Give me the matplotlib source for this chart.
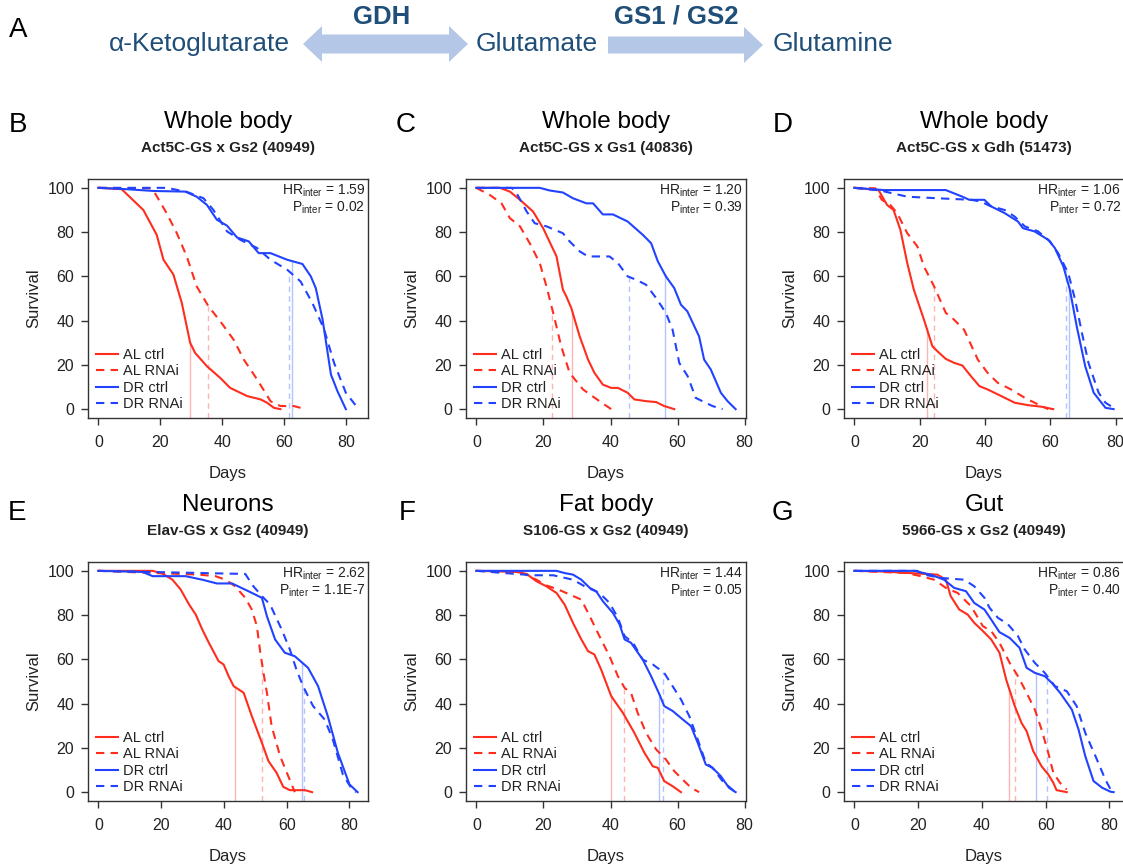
import numpy as np
import matplotlib
matplotlib.use("Agg")
import matplotlib.pyplot as plt
from matplotlib.patches import Polygon

plt.rcParams["font.family"] = ["Liberation Sans", "DejaVu Sans"]
plt.rcParams["mathtext.fontset"] = "custom"
plt.rcParams["mathtext.rm"] = "Liberation Sans"

# =========================
# データ (survival curves)
# =========================

# B: Whole body, Act5C-GS x Gs2
b_al_ctrl_x = [0, 7.5, 14.5, 18.8, 21, 24.2, 26.9, 29.6, 31.2, 35, 39.3, 42.5, 48, 52.3, 54.4, 56.6, 58.7]
b_al_ctrl_y = [100, 99.4, 90, 78.8, 67.5, 60.8, 48, 30, 25.4, 19.4, 14.1, 9.6, 5.9, 4.4, 2.9, 0.6, 0]
b_al_rnai_x = [0, 16.6, 18.2, 22, 25.3, 28.5, 31.7, 35.5, 39.3, 43.6, 46.9, 51.2, 55.5, 58.7, 63, 66.8]
b_al_rnai_y = [100, 99.8, 97.7, 88.6, 79.5, 69, 55.5, 46.5, 39.7, 31.4, 22.4, 13.4, 3.6, 1.4, 1.4, 0]
b_dr_ctrl_x = [0, 9, 17.7, 28, 31.7, 35, 38.2, 41.5, 44.7, 48.5, 51.7, 55.5, 60.9, 65.8, 68.5, 70.1, 72.3, 75, 77.1, 79.8]
b_dr_ctrl_y = [100, 99.4, 98.6, 98.3, 96, 92.3, 85.6, 82.9, 77.6, 75.8, 70.5, 70.5, 67.5, 65.6, 60, 54.7, 40.5, 15.6, 8.1, 0]
b_dr_rnai_x = [0, 22, 28.5, 33.9, 37.1, 41.5, 45.8, 51.2, 55.5, 60.9, 65.2, 69, 72.8, 76, 79.8, 83.6]
b_dr_rnai_y = [100, 100, 98.2, 95.3, 90, 80.3, 76.5, 72.8, 67.5, 63, 57.7, 48, 36, 20.9, 7.4, 0.6]
b_means = [29.6, 35.5, 62.3, 61.4]

# C: Whole body, Act5C-GS x Gs1
c_al_ctrl_x = [0, 7, 10, 13, 16.9, 19.9, 23.9, 25.8, 26.8, 28.3, 30.8, 33.3, 35.2, 37.7, 40.2, 42.2, 45.1, 47.1, 50.6, 53.6, 56, 59]
c_al_ctrl_y = [100, 100, 98.3, 94.6, 89.3, 81.8, 69, 54, 51, 45.7, 32.9, 22.4, 16.4, 11.1, 9.6, 9.6, 7.4, 4.4, 3.6, 3.2, 1.4, 0]
c_al_rnai_x = [0, 4, 7.5, 10, 13, 15.9, 18.9, 20.9, 22.9, 25.3, 27.8, 31.8, 36.7, 40.2]
c_al_rnai_y = [100, 96.8, 93, 86.3, 82.6, 75, 66, 55.5, 43.5, 28.4, 16.4, 8.9, 3.6, 0]
c_dr_ctrl_x = [0, 18.9, 21.9, 25.8, 28.8, 32.8, 34.8, 37.7, 40.7, 45.1, 49.6, 52.1, 54.1, 56.5, 59, 61, 62.9, 66.4, 67.9, 69.9, 72.9, 74.9, 77.3]
c_dr_ctrl_y = [100, 100, 98.8, 97.9, 95.3, 93, 93, 88, 88, 84.8, 78.8, 75, 66.8, 60, 54.7, 47.2, 44.2, 32.9, 22.4, 17.9, 7.4, 3.6, 0]
c_dr_rnai_x = [0, 10.5, 12, 15, 17.4, 20.9, 25.8, 27.8, 30.8, 33.3, 39.7, 42.2, 45.1, 47.6, 50.6, 53.6, 56.5, 58.5, 60.5, 63, 65.4, 67.4, 70.4, 73.4]
c_dr_rnai_y = [100, 100, 97.6, 89.3, 84, 82.6, 79.5, 75.8, 71.3, 69, 69, 66, 60, 58.5, 56.2, 50.2, 43.5, 35.9, 20.9, 14.9, 5.1, 3.6, 1.4, 0]
c_means = [28.6, 22.5, 56.1, 45.4]

# D: Whole body, Act5C-GS x Gdh
d_al_ctrl_x = [0, 7.4, 10, 12, 14.1, 16.2, 18.2, 21.3, 23.9, 25.4, 28, 30.6, 33.1, 35.7, 38.3, 40.8, 45, 49.1, 53.2, 57.3, 60.9]
d_al_ctrl_y = [100, 99, 92.3, 90, 81, 66, 54, 40.5, 28.4, 26.2, 22.7, 20.9, 19.7, 14.9, 10.4, 8.9, 5.9, 2.9, 1.8, 1.1, 0]
d_al_rnai_x = [0, 6.4, 8.4, 11, 13.1, 16.2, 19.3, 21.3, 24.4, 28, 30, 33.6, 37.8, 40.8, 43.9, 48, 52.2, 56.3, 59.4]
d_al_rnai_y = [100, 99.8, 94.6, 92.3, 88.6, 79.5, 73.5, 64.5, 55.5, 43.5, 41.2, 35.9, 22.4, 16.4, 11.9, 8.9, 5.1, 2.1, 0]
d_dr_ctrl_x = [0, 9, 28, 33.1, 35.2, 39.8, 41.9, 46, 50.1, 51.6, 55.2, 59.4, 61.4, 64, 66, 68.1, 70.7, 73.3, 76.9, 79.4]
d_dr_ctrl_y = [100, 99, 99, 96, 94.6, 94.6, 91.6, 88.6, 84.8, 81.8, 80.3, 76.5, 72.8, 64.5, 54, 37.4, 19.4, 7.4, 0.6, 0]
d_dr_rnai_x = [0, 7.9, 16.2, 25.4, 35.7, 38.8, 41.4, 46, 49.1, 52.2, 56.3, 59.9, 62.4, 65.5, 67.6, 69.7, 71.7, 74.8, 76.9, 79.4]
d_dr_rnai_y = [100, 98.8, 96, 95.3, 94.6, 93.8, 91.9, 90, 87, 82.6, 80.3, 75.8, 70.5, 61.5, 49.5, 34.4, 20.9, 7.4, 2.9, 0.6]
d_means = [22.1, 24.3, 65.7, 64.9]

# E: Neurons, Elav-GS x Gs2
e_al_ctrl_x = [0, 17.3, 20.4, 23.6, 26.2, 28.9, 31, 33.1, 35.2, 38.3, 39.9, 41.5, 43.1, 46.3, 48.9, 52.1, 54.2, 56.8, 58.9, 61, 65.8, 68.1]
e_al_ctrl_y = [100, 100, 98.8, 96, 91.6, 84.8, 80.3, 73.5, 67.5, 59.2, 57.7, 52.4, 47.9, 44.9, 34.3, 22.3, 14, 8.7, 2.4, 0.9, 0.9, 0]
e_al_rnai_x = [0, 18.3, 32, 37.3, 40.5, 43.6, 46.8, 48.9, 50.5, 51.6, 52.6, 53.7, 55.2, 57.9, 60.5, 62.6]
e_al_rnai_y = [100, 99, 98.3, 97.6, 96, 93, 87.8, 82.5, 75, 63, 53.9, 44.9, 29.8, 16.3, 7.2, 0]
e_dr_ctrl_x = [0, 14.1, 17.3, 27.8, 33.1, 37.8, 42.6, 47.8, 52.1, 53.7, 56.3, 59.4, 62.6, 66.8, 70, 73.1, 76.3, 80, 82.6]
e_dr_ctrl_y = [100, 99.5, 97.6, 97.6, 96, 94.3, 94.3, 90.8, 87.8, 79.5, 69, 63, 61.4, 56.2, 47.9, 34.3, 17.8, 3.5, 0]
e_dr_rnai_x = [0, 46.8, 49.4, 52.1, 54.7, 58.4, 61, 63.1, 65.2, 68.4, 72.1, 74.7, 77.9, 80.5, 82.1]
e_dr_rnai_y = [100, 98.6, 93, 88.6, 84.8, 73.5, 64.5, 55.4, 47.9, 38.9, 32.8, 23.8, 8, 2, 0]
e_means = [43.4, 52.1, 64.8, 65.5]

# F: Fat body, S106-GS x Gs2
f_al_ctrl_x = [0, 12, 15, 17.9, 20.9, 23.9, 26.3, 28.8, 31.3, 33.3, 35.2, 37.2, 40.2, 43.7, 47.1, 50.1, 52.6, 54.1, 56, 58.5, 61]
f_al_ctrl_y = [100, 99.5, 98.6, 95.3, 93, 90, 84.8, 76.5, 69, 63.7, 62.2, 55.4, 43.4, 35.8, 26.8, 17.8, 11.7, 11, 5, 2.7, 0]
f_al_rnai_x = [0, 13, 17.9, 20.9, 24.4, 27.8, 31.3, 33.8, 36.7, 39.7, 42.2, 44.2, 46.1, 48.1, 50.6, 53.6, 56.5, 59, 61.5, 64, 66.4]
f_al_rnai_y = [100, 99.5, 96, 93.4, 91.6, 89.3, 87, 79.5, 70.5, 61.4, 52.4, 47.1, 44.9, 35.8, 26.8, 19.3, 14.8, 9.5, 5.7, 2, 0]
f_dr_ctrl_x = [0, 23.9, 26.3, 28.8, 31.3, 33.8, 35.7, 37.7, 40.7, 42.7, 44.2, 46.1, 49.6, 52.1, 54.6, 56, 58.5, 61.5, 64, 66, 68.4, 70.4, 72.9, 75.3, 77.3]
f_dr_ctrl_y = [100, 100, 99, 98.3, 96, 92.3, 90.8, 86.3, 81, 75.8, 69, 67.5, 59.9, 52.4, 44.1, 38.9, 36.7, 32.9, 29.8, 22.3, 12.5, 11, 7.2, 2, 0]
f_dr_rnai_x = [0, 16.9, 22.9, 28.8, 32.3, 36.7, 39.7, 42.2, 44.2, 46.7, 49.6, 52.6, 56, 58.5, 61, 63.5, 66, 68.4, 70.4, 73.4, 76.8]
f_dr_rnai_y = [100, 98, 98, 96, 93, 90, 85.5, 78.8, 70.5, 67.5, 59.9, 57.7, 53.9, 47.9, 41.9, 34.3, 23.8, 13.3, 11, 5, 0.5]
f_means = [40.1, 44.1, 54.5, 55.6]

# G: Gut, 5966-GS x Gs2
g_al_ctrl_x = [0, 9.2, 19.7, 26, 28.7, 30.2, 32.9, 35.5, 37.6, 40.3, 42.9, 45.5, 47.6, 50.3, 52.4, 54, 56.1, 58.7, 60.8, 62.4, 63.4, 66.6]
g_al_ctrl_y = [100, 99.7, 98.8, 98.3, 96, 88.6, 82.5, 80.3, 76.5, 72.8, 69, 63, 50.9, 38.9, 31.3, 27.6, 18.5, 11.7, 8, 4.2, 0.9, 0]
g_al_rnai_x = [0, 16.5, 20.8, 25, 28.7, 32.4, 36.6, 40.3, 42.9, 45.5, 48.7, 51.3, 54, 56.6, 58.7, 60.8, 62.4, 64.5, 66.6]
g_al_rnai_y = [100, 99, 97.6, 96, 92.3, 90, 84, 75, 72.8, 67.5, 58.4, 52.4, 44.9, 37.3, 28.3, 17.8, 8.7, 4.2, 1.2]
g_dr_ctrl_x = [0, 18.7, 23.9, 28.1, 31.3, 35, 37.6, 40.8, 42.9, 45.5, 48.7, 51.8, 54, 56.6, 59.7, 61.9, 64.5, 68.2, 70.3, 72.4, 75, 77.7, 80.3, 81.3]
g_dr_ctrl_y = [100, 100, 98.3, 96, 92.3, 90.8, 85.5, 82.5, 78, 72.3, 69.7, 65.2, 56.2, 53.9, 52.4, 49.4, 44.9, 37.3, 28.3, 16.3, 5, 2, 0.2, 0]
g_dr_rnai_x = [0, 19.7, 21.9, 27.1, 34.5, 37.6, 40.8, 42.4, 45, 48.2, 51.3, 53.4, 56.6, 59.7, 62.9, 66.6, 69.7, 72.4, 75.6, 78.7, 80.8]
g_dr_rnai_y = [100, 100, 98.3, 96.8, 96, 93, 87.8, 83.3, 78.8, 75.8, 70.5, 64.5, 58.4, 53.9, 47.9, 45.6, 38.9, 26.8, 16.3, 5.7, 0]
g_means = [48.5, 50.5, 56.8, 60.3]

letters = ["B", "C", "D", "E", "F", "G"]
titles = ["Whole body", "Whole body", "Whole body", "Neurons", "Fat body", "Gut"]
subtitles = ["Act5C-GS x Gs2 (40949)", "Act5C-GS x Gs1 (40836)", "Act5C-GS x Gdh (51473)",
             "Elav-GS x Gs2 (40949)", "S106-GS x Gs2 (40949)", "5966-GS x Gs2 (40949)"]
hr_inter = ["1.59", "1.20", "1.06", "2.62", "1.44", "0.86"]
p_inter = ["0.02", "0.39", "0.72", "1.1E-7", "0.05", "0.40"]
series_names = ["AL ctrl", "AL RNAi", "DR ctrl", "DR RNAi"]

panels = [
    ([b_al_ctrl_x, b_al_rnai_x, b_dr_ctrl_x, b_dr_rnai_x], [b_al_ctrl_y, b_al_rnai_y, b_dr_ctrl_y, b_dr_rnai_y], b_means),
    ([c_al_ctrl_x, c_al_rnai_x, c_dr_ctrl_x, c_dr_rnai_x], [c_al_ctrl_y, c_al_rnai_y, c_dr_ctrl_y, c_dr_rnai_y], c_means),
    ([d_al_ctrl_x, d_al_rnai_x, d_dr_ctrl_x, d_dr_rnai_x], [d_al_ctrl_y, d_al_rnai_y, d_dr_ctrl_y, d_dr_rnai_y], d_means),
    ([e_al_ctrl_x, e_al_rnai_x, e_dr_ctrl_x, e_dr_rnai_x], [e_al_ctrl_y, e_al_rnai_y, e_dr_ctrl_y, e_dr_rnai_y], e_means),
    ([f_al_ctrl_x, f_al_rnai_x, f_dr_ctrl_x, f_dr_rnai_x], [f_al_ctrl_y, f_al_rnai_y, f_dr_ctrl_y, f_dr_rnai_y], f_means),
    ([g_al_ctrl_x, g_al_rnai_x, g_dr_ctrl_x, g_dr_rnai_x], [g_al_ctrl_y, g_al_rnai_y, g_dr_ctrl_y, g_dr_rnai_y], g_means),
]

# =========================
# スタイル
# =========================

W, H = 1123, 867
red = "#ff2d1e"
blue = "#2143ff"
line_colors = [red, red, blue, blue]
mean_colors = ["#ffb4b4", "#ffb4b4", "#b4c4ff", "#b4c4ff"]
dashed = [False, True, False, True]
dash = (4, 3)
axis_col = "#333333"
text_col = "#222222"
header_col = "#1f4e79"
arrow_col = "#b4c7e7"


def fx(x):
    return x / W


def fy(y):
    return 1 - y / H


fig = plt.figure(figsize=(W / 100, H / 100), dpi=100)

# =========================
# A: pathway header
# =========================

fig.text(fx(18), fy(30), "A", fontsize=20, ha="center", va="center")
fig.text(fx(199), fy(44), "α-Ketoglutarate", fontsize=19, color=header_col, ha="center", va="center")
fig.text(fx(537), fy(44), "Glutamate", fontsize=19, color=header_col, ha="center", va="center")
fig.text(fx(833), fy(44), "Glutamine", fontsize=19, color=header_col, ha="center", va="center")
fig.text(fx(382), fy(17), "GDH", fontsize=18.5, fontweight="bold", color=header_col, ha="center", va="center")
fig.text(fx(676), fy(17), "GS1 / GS2", fontsize=18.5, fontweight="bold", color=header_col, ha="center", va="center")


def arrow_poly(x0, x1, yc, body, head, hl, double):
    pts = []
    if double:
        pts += [(x0, yc), (x0 + hl, yc - head), (x0 + hl, yc - body)]
    else:
        pts += [(x0, yc - body)]
    pts += [(x1 - hl, yc - body), (x1 - hl, yc - head), (x1, yc),
            (x1 - hl, yc + head), (x1 - hl, yc + body)]
    if double:
        pts += [(x0 + hl, yc + body), (x0 + hl, yc + head)]
    else:
        pts += [(x0, yc + body)]
    return [(fx(a), fy(b)) for a, b in pts]


fig.patches.append(Polygon(arrow_poly(303, 468, 44, 9.5, 18, 19, True), closed=True,
                           facecolor=arrow_col, edgecolor="none", transform=fig.transFigure))
fig.patches.append(Polygon(arrow_poly(608, 763, 45, 8.5, 18, 19, False), closed=True,
                           facecolor=arrow_col, edgecolor="none", transform=fig.transFigure))

# =========================
# B-G: survival panels
# =========================

ax_left = [88, 466, 844, 88, 466, 844]
ax_top = [179, 179, 179, 562, 562, 562]
ax_w = 280
ax_h = 239
letter_xy = [(18, 125), (406, 125), (783, 125), (17, 513), (407, 513), (782, 513)]

for i, (xs, ys, means) in enumerate(panels):
    left, top = ax_left[i], ax_top[i]
    ax = fig.add_axes([fx(left), fy(top + ax_h), fx(ax_w), ax_h / H])

    xmax = max(max(x) for x in xs)
    ax.set_xlim(-0.04 * xmax, 1.04 * xmax)
    ax.set_ylim(-4, 104)

    # mean lifespan markers
    for k in range(4):
        top_val = np.interp(means[k], xs[k], ys[k])
        ln = ax.plot([means[k], means[k]], [-4, top_val], color=mean_colors[k], lw=1.0, zorder=1)[0]
        if dashed[k]:
            ln.set_dashes(dash)

    handles = []
    for k in range(4):
        ln = ax.plot(xs[k], ys[k], color=line_colors[k], lw=1.5, zorder=3, label=series_names[k])[0]
        if dashed[k]:
            ln.set_dashes(dash)
        handles.append(ln)

    ax.set_xticks([0, 20, 40, 60, 80])
    ax.set_yticks([0, 20, 40, 60, 80, 100])
    ax.tick_params(direction="out", length=5, width=1, colors=axis_col, labelsize=11.5,
                   labelcolor=text_col)
    ax.tick_params(axis="x", pad=7)
    ax.tick_params(axis="y", pad=5)
    for s in ax.spines.values():
        s.set_color(axis_col)
        s.set_linewidth(1.0)

    ax.set_xlabel("Days", fontsize=12, color=text_col)
    ax.set_ylabel("Survival", fontsize=12, color=text_col)
    ax.xaxis.set_label_coords(0.5, -48 / ax_h)
    ax.yaxis.set_label_coords(-47 / ax_w, 0.5)

    leg = ax.legend(handles=handles, loc="lower left", bbox_to_anchor=(0.03, 0.03),
                    frameon=False, fontsize=10.5, handlelength=1.45, handletextpad=0.35,
                    labelspacing=0.15, borderpad=0, borderaxespad=0)
    for t in leg.get_texts():
        t.set_color(text_col)

    ax.text(0.99, 0.952, r"HR$_{\mathrm{inter}}$ = " + hr_inter[i], transform=ax.transAxes,
            ha="right", va="center", fontsize=10, color=text_col)
    ax.text(0.99, 0.878, r"P$_{\mathrm{inter}}$ = " + p_inter[i], transform=ax.transAxes,
            ha="right", va="center", fontsize=10, color=text_col)

    cx = left + ax_w / 2
    fig.text(fx(cx), fy(top - 57), titles[i], fontsize=17.5, ha="center", va="center")
    fig.text(fx(cx), fy(top - 31), subtitles[i], fontsize=11, fontweight="bold",
             color=text_col, ha="center", va="center")
    lx, ly = letter_xy[i]
    fig.text(fx(lx), fy(ly), letters[i], fontsize=20, ha="center", va="center")

plt.savefig("out.png", dpi=100)
